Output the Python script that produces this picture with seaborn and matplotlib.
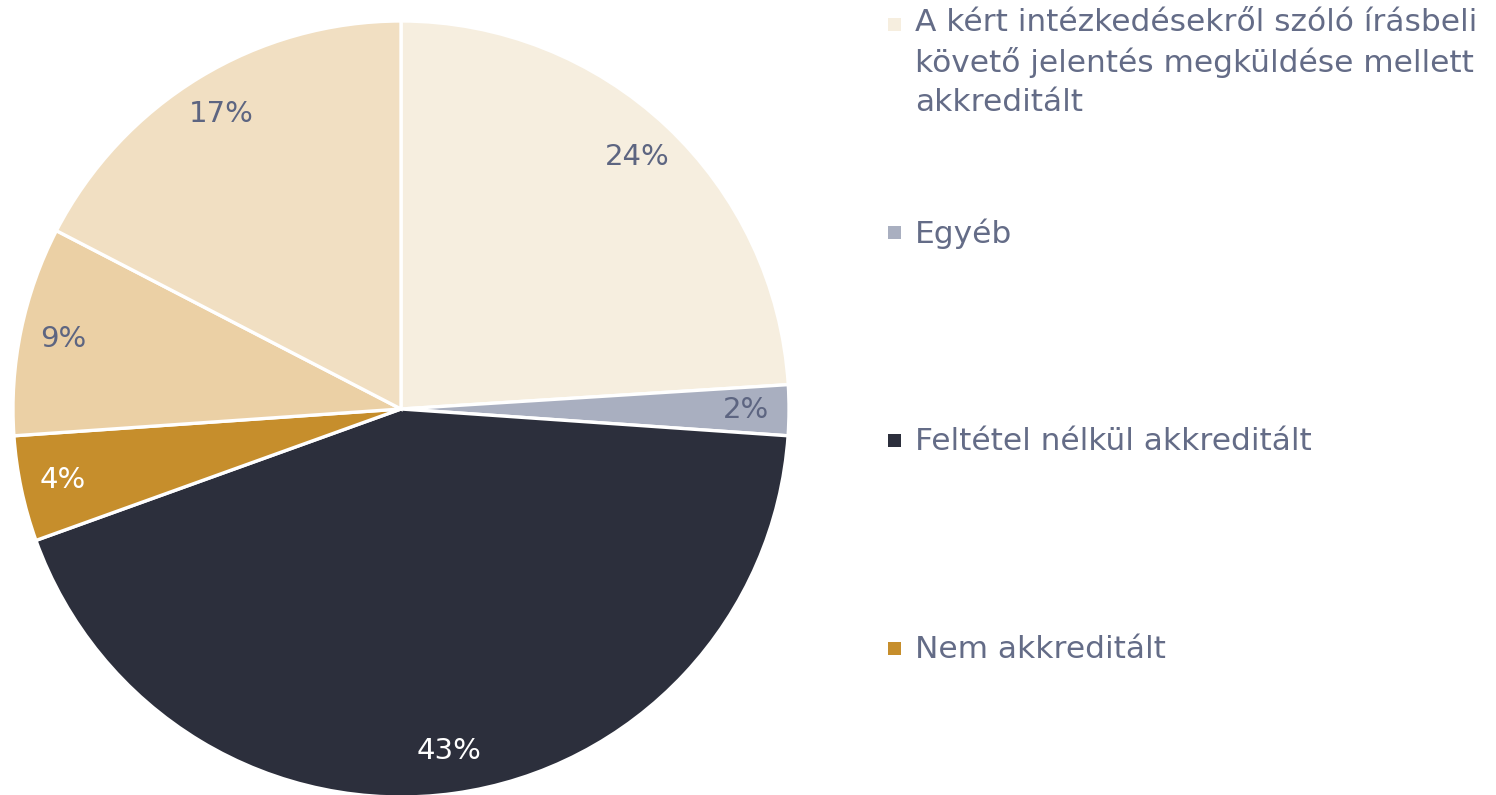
import matplotlib
matplotlib.use("Agg")
import matplotlib.pyplot as plt
import seaborn as sns

# 数据：从 12 点方向顺时针
categories = [
    "A kért intézkedésekről szóló írásbeli\nkövető jelentés megküldése mellett\nakkreditált",
    "Egyéb",
    "Feltétel nélkül akkreditált",
    "Nem akkreditált",
    "Egyéb 2",
    "Egyéb 3",
]
shares = [24.0, 2.1, 43.4, 4.4, 8.7, 17.4]
colors = ["#F6EEDF", "#A9AFC0", "#2C2F3C", "#C68E2C", "#EBD0A5", "#F1DFC2"]
label_colors = ["#5D6581", "#5D6581", "#FFFFFF", "#FFFFFF", "#5D6581", "#5D6581"]
legend_count = 4

sns.set_theme(style="white")
plt.rcParams["font.family"] = ["DejaVu Sans"]

W, H, DPI = 1496, 795, 100
fig = plt.figure(figsize=(W / DPI, H / DPI), dpi=DPI)
fig.patch.set_facecolor("white")

# 饼图区域（像素）
cx, cy, r = 401, 409, 388
ax = fig.add_axes([(cx - r) / W, (H - cy - r) / H, 2 * r / W, 2 * r / H])
wedges, texts, autotexts = ax.pie(
    shares, colors=colors, startangle=90, counterclock=False,
    autopct=lambda p: f"{p:.0f}%", pctdistance=0.89,
    wedgeprops={"edgecolor": "white", "linewidth": 2.4},
    textprops={"fontsize": 21},
)
for t, c in zip(autotexts, label_colors):
    t.set_color(c)
ax.set_xlim(-1, 1)
ax.set_ylim(-1, 1)
ax.set_aspect("equal")
ax.axis("off")

# 图例（手动，方块对齐首行）
legend_y = [24, 232, 440, 648]
for i in range(legend_count):
    y = 1 - legend_y[i] / H
    fig.patches.append(plt.Rectangle((888 / W, y - 6.5 / H), 13 / W, 13 / H,
                                     transform=fig.transFigure, facecolor=colors[i],
                                     edgecolor="none"))
    fig.text(915 / W, y, categories[i], fontsize=22.5, color="#646C87",
             va="top", ha="left", linespacing=1.42,
             transform=fig.transFigure)

# 首行垂直居中到方块
fig.canvas.draw()
for t in fig.texts:
    bb = t.get_window_extent()
    nlines = t.get_text().count("\n") + 1
    line_h = bb.height / nlines
    x, y = t.get_position()
    t.set_position((x, y + (line_h / 2 - 2) / H))

fig.savefig("out.png", dpi=DPI)
